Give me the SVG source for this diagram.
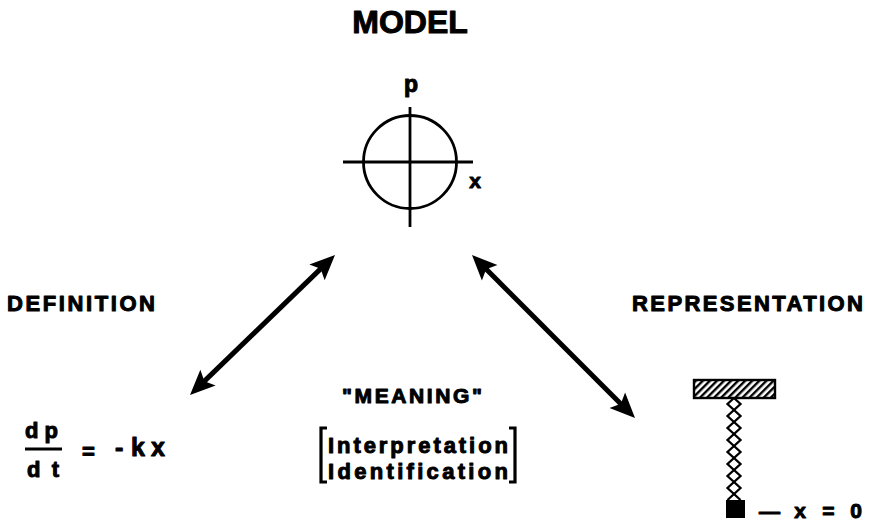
<svg xmlns="http://www.w3.org/2000/svg" width="870" height="523" viewBox="0 0 870 523">
  <style>
    .t { font-family: "Liberation Sans", Arial, Helvetica, sans-serif; font-weight: bold; fill: #000; stroke: #000; stroke-width: 1; stroke-linejoin: round; }
    .ln { stroke: #000; fill: none; }
    .arrow { stroke: #000; stroke-width: 5; fill: none; marker-start: url(#head); marker-end: url(#head); }
  </style>
  <defs>
    <marker id="head" markerUnits="userSpaceOnUse" markerWidth="40" markerHeight="30" viewBox="-12 -15 30 30" refX="0" refY="0" orient="auto-start-reverse">
      <path d="M15,0 L-10,-11 L-5,0 L-10,11 Z" fill="#000"/>
    </marker>
    <pattern id="hatch" patternUnits="userSpaceOnUse" width="5" height="10" patternTransform="rotate(45)">
      <rect x="0" y="0" width="2.4" height="10" fill="#000"/>
    </pattern>
  </defs>
  <rect width="870" height="523" fill="#fff"/>

  <!-- phase-plane model -->
  <g id="model">
    <text class="t" x="410" y="33" font-size="32" text-anchor="middle">MODEL</text>
    <circle class="ln" cx="410" cy="162" r="46.5" stroke-width="2.8"/>
    <line class="ln" x1="343" y1="162" x2="473" y2="162" stroke-width="2.8"/>
    <line class="ln" x1="410" y1="107" x2="410" y2="227" stroke-width="2.8"/>
    <text class="t" x="411" y="92" font-size="23" text-anchor="middle">p</text>
    <text class="t" x="475" y="188" font-size="21" text-anchor="middle">x</text>
  </g>

  <!-- differential equation -->
  <g id="definition">
    <text class="t" x="7" y="311" font-size="22" textLength="148" lengthAdjust="spacing">DEFINITION</text>
    <text class="t" x="25" y="438" font-size="22" textLength="33" lengthAdjust="spacing">dp</text>
    <line class="ln" x1="25" y1="449" x2="62" y2="449" stroke-width="3.2"/>
    <text class="t" x="27" y="477" font-size="22" textLength="32" lengthAdjust="spacing">dt</text>
    <text class="t" x="88.5" y="459" font-size="22" text-anchor="middle">=</text>
    <text class="t" font-size="25" y="456"><tspan x="115">-</tspan><tspan x="131">k</tspan><tspan x="151">x</tspan></text>
  </g>

  <!-- meaning -->
  <g id="meaning">
    <text class="t" x="342" y="403" font-size="21" textLength="140" lengthAdjust="spacing">"MEANING"</text>
    <path class="ln" d="M327,428 L321,428 L321,482 L327,482" stroke-width="3.2"/>
    <path class="ln" d="M509,428 L515,428 L515,482 L509,482" stroke-width="3.2"/>
    <text class="t" x="328" y="453" font-size="22" textLength="180" lengthAdjust="spacing">Interpretation</text>
    <text class="t" x="328" y="479" font-size="22" textLength="180" lengthAdjust="spacing">Identification</text>
  </g>

  <!-- spring and mass -->
  <g id="representation">
    <text class="t" x="632" y="311" font-size="22" textLength="231" lengthAdjust="spacing">REPRESENTATION</text>
    <rect x="694" y="380" width="81" height="18" fill="url(#hatch)" stroke="#000" stroke-width="2.4"/>
    <polyline class="ln" stroke-width="2.3" points="734,398 727.5,404 740.5,416 727.5,428 740.5,440 727.5,452 740.5,464 727.5,476 740.5,488 727.5,500"/>
    <polyline class="ln" stroke-width="2.3" points="734,398 740.5,404 727.5,416 740.5,428 727.5,440 740.5,452 727.5,464 740.5,476 727.5,488 740.5,500"/>
    <rect x="726" y="500" width="19" height="18" fill="#000"/>
    <text class="t" font-size="21" y="518"><tspan x="769.5" text-anchor="middle">—</tspan><tspan x="800" text-anchor="middle">x</tspan><tspan x="828.5" text-anchor="middle">=</tspan><tspan x="856" text-anchor="middle">0</tspan></text>
  </g>

  <!-- double-headed connectors -->
  <g id="connectors">
    <line class="arrow" x1="200.8" y1="384.6" x2="324.2" y2="265.4"/>
    <line class="arrow" x1="482.6" y1="265.6" x2="624.4" y2="407.4"/>
  </g>
</svg>
